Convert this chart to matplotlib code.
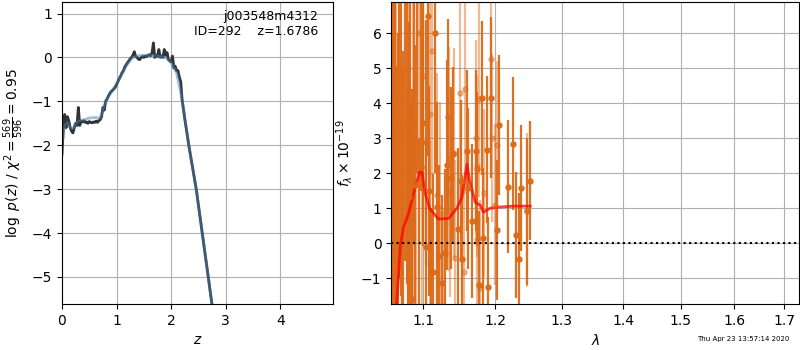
import matplotlib
matplotlib.use('Agg')
import matplotlib.pyplot as plt
from matplotlib.ticker import MultipleLocator, NullLocator, FormatStrFormatter
import numpy as np

# p(z) panel data
dz = 0.025
logp_vals = [-2.2, -1.6, -1.3, -1.6, -1.35, -1.45, -1.6, -1.68, -1.72, -1.6,
             -1.5, -1.55, -1.14, -1.55, -1.45, -1.47, -1.44, -1.48, -1.47, -1.5,
             -1.46, -1.48, -1.49, -1.47, -1.48, -1.45, -1.48, -1.44, -1.42, -1.35,
             -1.14, -1.2, -1.0, -0.95, -0.88, -0.82, -0.78, -0.75, -0.72, -0.68,
             -0.62, -0.55, -0.48, -0.42, -0.35, -0.3, -0.22, -0.17, -0.12, -0.08,
             -0.03, 0.0, 0.05, 0.13, 0.02, 0.0, -0.04, -0.05, 0.0, 0.02,
             0.0, 0.03, 0.02, 0.05, 0.06, 0.04, 0.1, 0.33, 0.0, 0.05,
             0.02, 0.18, 0.0, 0.03, 0.0, 0.18, 0.05, 0.11, -0.05, -0.08,
             -0.1, 0.03, -0.24, -0.2, -0.31, -0.3, -0.45, -0.55, -0.95]
z_tail = [2.25, 2.33, 2.46, 2.57, 2.68, 2.80]
logp_tail = [-1.4, -2.05, -3.0, -4.0, -5.0, -6.1]

z_smooth = [0, 0.05, 0.1, 0.15, 0.2, 0.25, 0.3, 0.4, 0.5, 0.6, 0.7, 0.75, 0.8,
            0.9, 1.0, 1.1, 1.2, 1.3, 1.4, 1.5, 1.6, 1.7, 1.8, 1.9, 2.0, 2.1,
            2.2, 2.33, 2.46, 2.57, 2.68, 2.8]
logp_smooth = [-1.95, -1.55, -1.48, -1.6, -1.62, -1.52, -1.45, -1.42, -1.38,
               -1.37, -1.38, -1.2, -1.0, -0.8, -0.6, -0.38, -0.15, 0.0, 0.04,
               0.05, 0.05, 0.04, 0.02, 0.0, -0.12, -0.35, -0.95, -2.05, -3.0,
               -4.0, -5.0, -6.1]

# spectrum panel data (dark = first set, light = second set)
wave_a = [1.0595, 1.061, 1.0625, 1.0635, 1.065, 1.067, 1.0685, 1.071, 1.0725,
          1.074, 1.0760, 1.0786, 1.0800, 1.0812, 1.083, 1.0845, 1.0859, 1.0875,
          1.0898, 1.092, 1.0945, 1.0970, 1.0996, 1.1036, 1.1040, 1.1060, 1.1076,
          1.1105, 1.1137, 1.1160, 1.1183, 1.1218,
          1.1255, 1.1291, 1.1323, 1.1327, 1.1373, 1.1409, 1.1465, 1.1516,
          1.1525, 1.1599, 1.1613, 1.1665, 1.1716, 1.1735, 1.1768, 1.1810,
          1.1829, 1.1877, 1.1896, 1.1943, 1.2030, 1.2059, 1.2182, 1.2264,
          1.2304, 1.2349, 1.2383, 1.2473, 1.2513]
flux_a = [-4.0, 8.0, 5.0, 3.46, -5.0, -3.0, 9.0, 7.5, -4.0,
          -2.5, 8.5, 3.34, -3.5, 1.31, 8.5, -4.0, -1.6, 9.0,
          1.66, 7.0, -3.0, 7.5, 3.43, -0.11, 2.88, 6.5, 1.48,
          -2.5, -0.81, 6.0, 1.05, -0.37,
          -1.13, -0.29, 2.24, 3.6, 1.86, 2.54, 0.42, 1.79,
          -0.44, 2.64, 1.57, 0.63, 2.64, 2.13, -1.19, 4.16,
          0.16, 2.67, -1.24, 4.16, 0.38, 3.39, 1.62, 2.85,
          0.23, -0.46, 1.59, 0.91, 1.79]
err_a = [10, 10, 8, 6, 10, 9, 10, 9, 9,
         8, 9, 4.5, 8, 5, 8, 8, 6, 9,
         4, 5, 6, 6, 3.5, 3.0, 3.5, 4, 3.0,
         3.5, 2.8, 4.0, 3.0, 2.6,
         2.5, 2.4, 3.0, 2.8, 2.6, 2.5, 2.3, 2.3,
         2.4, 2.3, 2.3, 2.2, 2.3, 2.2, 2.1, 2.2,
         2.0, 2.1, 2.0, 2.3, 2.0, 2.0, 1.9, 1.9,
         1.8, 1.9, 1.8, 2.1, 1.7]

wave_b = [1.0602, 1.065, 1.072, 1.080, 1.0864, 1.091, 1.095, 1.0987, 1.0991,
          1.1084, 1.1090, 1.1120, 1.1183, 1.1228, 1.1280, 1.1341, 1.1363,
          1.1418, 1.1425, 1.1502, 1.1557, 1.1562, 1.1716, 1.1735, 1.1742,
          1.1758, 1.1782, 1.1839, 1.1939, 1.1945, 1.1993, 1.2030, 1.2473]
flux_b = [-3.0, 7.0, -4.0, 5.0, 3.03, -2.5, 6.0, 2.17, 4.77,
          3.68, -0.58, 5.5, 1.37, 0.85, -2.5, 2.42, 1.47,
          2.57, -0.42, 4.30, -0.83, 4.41, 3.0, 2.2, 0.11,
          4.12, -1.27, 1.43, 5.27, 3.0, 1.1, 2.82, 0.96]
err_b = [9, 9, 8, 7, 5, 6, 6, 4.0, 4.0,
         4.0, 3.5, 4.0, 3.5, 3.2, 3.5, 3.2, 3.0,
         3.0, 2.8, 3.2, 2.6, 3.0, 2.8, 2.6, 2.6,
         2.8, 2.5, 2.4, 2.6, 2.4, 2.3, 2.4, 2.2]

wave_model = [1.060, 1.0657, 1.070, 1.0742, 1.0807, 1.0895, 1.0951, 1.0983,
              1.1027, 1.1084, 1.1204, 1.1341, 1.1456, 1.1525, 1.1596, 1.1631,
              1.1712, 1.1782, 1.1829, 1.1924, 1.2022, 1.2264, 1.2513]
flux_model = [-3.0, -1.63, -0.1, 0.46, 0.85, 1.6, 2.03, 2.03,
              1.43, 1.0, 0.69, 0.71, 1.0, 1.31, 2.26, 1.8,
              1.17, 1.09, 0.89, 1.0, 1.03, 1.06, 1.06]

orange = '#dc6a18'

fig = plt.figure(figsize=(8, 3.5), dpi=100)
ax1 = fig.add_axes([0.0775, 0.131, 0.339, 0.863])
ax2 = fig.add_axes([0.489, 0.131, 0.51, 0.863])

# left: p(z)
z = np.arange(len(logp_vals)) * dz
z_all = np.concatenate([z, z_tail])
logp_all = np.concatenate([logp_vals, logp_tail])
ax1.plot(z_all, logp_all, color='0.2', lw=2)
ax1.plot(z_smooth, logp_smooth, color='steelblue', lw=2, alpha=0.5)
ax1.set_xlim(0, 4.97)
ax1.set_ylim(-5.62, 1.26)
ax1.grid()
ax1.set_xlabel('$z$')
ax1.set_ylabel(r'$\log\ p(z)$ / $\chi^2=\frac{569}{596}=0.95$')
ax1.text(0.945, 0.975, 'j003548m4312\nID=292    z=1.6786', ha='right', va='top',
         transform=ax1.transAxes, fontsize=9)

# right: spectrum
ax2.errorbar(wave_b, flux_b, yerr=err_b, fmt='o', color=orange, ms=3.6,
             elinewidth=1.6, capsize=0, alpha=0.45)
ax2.errorbar(wave_a, flux_a, yerr=err_a, fmt='o', color=orange, ms=3.6,
             elinewidth=1.6, capsize=0, alpha=0.95)
ax2.plot(wave_model, flux_model, color='r', lw=2, alpha=0.75)
ax2.axhline(0, color='k', ls=':', lw=1.5)
ax2.set_xscale('log')
ax2.xaxis.set_major_locator(MultipleLocator(0.1))
ax2.xaxis.set_minor_locator(NullLocator())
ax2.xaxis.set_major_formatter(FormatStrFormatter('%.1f'))
ax2.set_xlim(1.0584, 1.7304)
ax2.set_ylim(-1.74, 6.89)
ax2.grid()
ax2.set_xlabel(r'$\lambda$')
ax2.set_ylabel(r'$f_\lambda\times10^{-19}$')

fig.text(0.929, 0.031, 'Thu Apr 23 13:57:14 2020', ha='center', va='center',
         fontsize=5)

fig.savefig('out.png', dpi=100)
